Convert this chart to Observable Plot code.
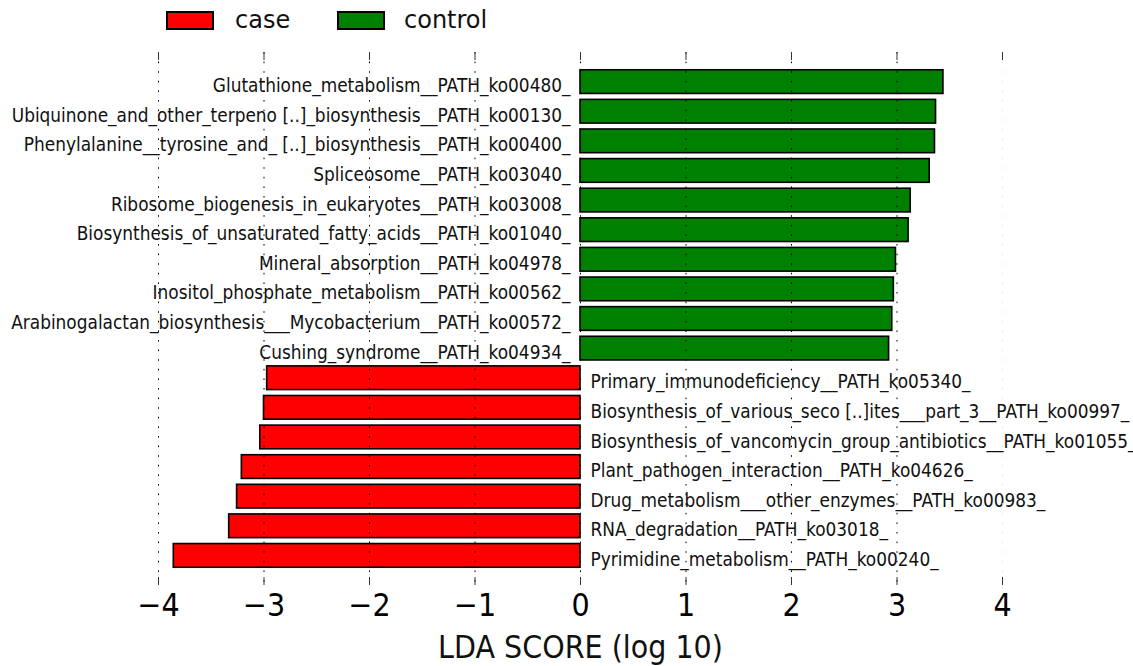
<!DOCTYPE html>
<html>
<head>
<meta charset="utf-8">
<script src="https://cdn.jsdelivr.net/npm/d3@7"></script>
<script src="https://cdn.jsdelivr.net/npm/@observablehq/plot@0.6"></script>
<style>
  html, body { margin: 0; padding: 0; background: #fff; overflow: hidden; }
  #wrap { position: relative; width: 1133px; height: 666px; font-family: "DejaVu Sans", sans-serif; overflow: hidden; }
  #legend { position: absolute; left: 0; top: 0; height: 40px; width: 1133px; }
  .sw { position: absolute; top: 11px; width: 44px; height: 15px; border: 2px solid #000; }
  .lt { position: absolute; top: 5px; font-size: 24px; color: #111; line-height: 30px; }
</style>
</head>
<body>
<div id="wrap">
  <div id="chart"></div>
  <div id="legend"></div>
</div>
<script>
// ---- data ----
const names = [
  "Glutathione_metabolism__PATH_ko00480_",
  "Ubiquinone_and_other_terpeno [..]_biosynthesis__PATH_ko00130_",
  "Phenylalanine__tyrosine_and_ [..]_biosynthesis__PATH_ko00400_",
  "Spliceosome__PATH_ko03040_",
  "Ribosome_biogenesis_in_eukaryotes__PATH_ko03008_",
  "Biosynthesis_of_unsaturated_fatty_acids__PATH_ko01040_",
  "Mineral_absorption__PATH_ko04978_",
  "Inositol_phosphate_metabolism__PATH_ko00562_",
  "Arabinogalactan_biosynthesis___Mycobacterium__PATH_ko00572_",
  "Cushing_syndrome__PATH_ko04934_",
  "Primary_immunodeficiency__PATH_ko05340_",
  "Biosynthesis_of_various_seco [..]ites___part_3__PATH_ko00997_",
  "Biosynthesis_of_vancomycin_group_antibiotics__PATH_ko01055_",
  "Plant_pathogen_interaction__PATH_ko04626_",
  "Drug_metabolism___other_enzymes__PATH_ko00983_",
  "RNA_degradation__PATH_ko03018_",
  "Pyrimidine_metabolism__PATH_ko00240_"
];
const ldaScores = [3.44, 3.37, 3.36, 3.31, 3.13, 3.11, 2.99, 2.97, 2.955, 2.925,
                   -2.97, -3.00, -3.035, -3.21, -3.255, -3.33, -3.855];
const groups = ["control","control","control","control","control","control","control","control","control","control",
                "case","case","case","case","case","case","case"];
const classNames = ["case", "control"];
const classColors = ["#ff0000", "#008000"];
const xTicks = [-4, -3, -2, -1, 0, 1, 2, 3, 4];
const axisTitle = "LDA SCORE (log 10)";

const rows = names.map((n, i) => ({name: n, value: ldaScores[i], group: groups[i]}));
const fmt = d3.format("d");

const chart = Plot.plot({
  width: 1133,
  height: 666,
  marginTop: 52,
  marginBottom: 81,
  marginLeft: 158,
  marginRight: 131,
  style: {fontFamily: "DejaVu Sans, sans-serif", background: "#fff", color: "#000", overflow: "hidden"},
  x: {domain: [-4, 4], axis: null},
  y: {domain: names, axis: null, paddingInner: 0.2, paddingOuter: 0.6, round: false},
  color: {domain: classNames, range: classColors},
  marks: [
    Plot.barX(rows, {x: "value", y: "name", fill: "group", stroke: "#000", strokeWidth: 1.6}),
    Plot.text(rows.filter(d => d.value > 0), {x: 0, y: "name", text: "name", textAnchor: "end", dx: -10, dy: 4, fontSize: 19, fill: "#111"}),
    Plot.text(rows.filter(d => d.value < 0), {x: 0, y: "name", text: "name", textAnchor: "start", dx: 10, dy: 4, fontSize: 19, fill: "#111"}),
    // dotted grid
    Plot.ruleX(xTicks.filter(t => t < 4), {x: d => d, stroke: "#000", strokeWidth: 1, strokeDasharray: "1.6,8"}),
    Plot.ruleX(xTicks.filter(t => t >= 4), {x: d => d, stroke: "#e4e4e4", strokeWidth: 1, strokeDasharray: "1.6,8"}),
    // inward ticks, top and bottom
    Plot.ruleX(xTicks, {x: d => d, insetBottom: 525, stroke: "#333", strokeWidth: 1}),
    Plot.ruleX(xTicks, {x: d => d, insetTop: 525, stroke: "#333", strokeWidth: 1}),
    // tick labels
    Plot.text(xTicks, {x: d => d, frameAnchor: "bottom", dy: 20, text: d => fmt(d), fontSize: 32, fill: "#000", lineAnchor: "middle"}),
    // axis title
    Plot.text([axisTitle], {x: 0, frameAnchor: "bottom", dy: 62, text: d => d, fontSize: 32, fill: "#111", lineAnchor: "middle"})
  ]
});
document.getElementById("chart").appendChild(chart);

// horizontal condensing of text, to match the narrower glyphs of the original
function condense(sel, sx) {
  sel.forEach(el => {
    const t = el.getAttribute("transform") || "";
    const x = +(el.getAttribute("x") || 0);
    el.setAttribute("transform", `${t} translate(${x},0) scale(${sx},1) translate(${-x},0)`);
  });
}
chart.querySelectorAll("g[aria-label='text']").forEach(g => {
  condense(g.querySelectorAll("text"), 0.893);
});

// legend
const legend = document.getElementById("legend");
const lx = [[166, 235], [337, 404]];
classNames.forEach((c, i) => {
  const sw = document.createElement("div");
  sw.className = "sw";
  sw.style.left = lx[i][0] + "px";
  sw.style.background = classColors[i];
  legend.appendChild(sw);
  const t = document.createElement("div");
  t.className = "lt";
  t.style.left = lx[i][1] + "px";
  t.textContent = c;
  legend.appendChild(t);
});
</script>
</body>
</html>
